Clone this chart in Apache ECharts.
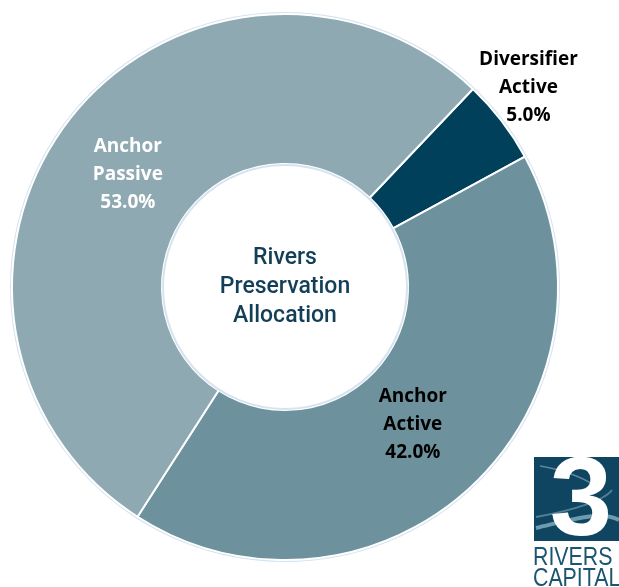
<!DOCTYPE html>
<html><head><meta charset="utf-8">
<script src="https://cdn.jsdelivr.net/npm/echarts@6/dist/echarts.min.js"></script>
<style>html,body{margin:0;padding:0;background:#fff}#c{width:619px;height:587px}</style>
</head><body><div id="c"></div>
<script>
const categories = ['Diversifier\nActive', 'Anchor\nActive', 'Anchor\nPassive'];
const values = [5.0, 42.0, 53.0];
const colors = ['#00405a', '#6e929d', '#8ea9b1'];
const labelColors = ['#000000', '#000000', '#ffffff'];
const labelOffsets = [[84, -77], [-9, -10], [1, 12]];

const chart = echarts.init(document.getElementById('c'), null, {renderer: 'canvas'});
const data = categories.map((n, i) => ({
  name: n, value: values[i],
  itemStyle: {color: colors[i]},
  label: {color: labelColors[i], offset: labelOffsets[i]}
}));
chart.setOption({
  animation: false,
  graphic: [
    {type: 'circle', shape: {cx: 285, cy: 287, r: 274}, style: {fill: 'none', stroke: '#d6e4f0', lineWidth: 2}, z: -1},
    {type: 'circle', shape: {cx: 285, cy: 287, r: 122}, style: {fill: 'none', stroke: '#d6e4f0', lineWidth: 2}, z: 10},
    {type: 'text', z: 10, silent: true,
     style: {text: 'Rivers\nPreservation\nAllocation', x: 285, y: 287, align: 'center', verticalAlign: 'middle',
       font: '500 23px Roboto', fill: '#123f57', lineHeight: 29}},
    {type: 'rect', shape: {x: 534, y: 457, width: 90, height: 84}, style: {fill: '#0f4560'}},
    {type: 'bezierCurve', shape: {x1: 536, y1: 528, x2: 619, y2: 520, cpx1: 570, cpy1: 520, cpx2: 600, cpy2: 510}, style: {stroke: '#6f9bb0', lineWidth: 4, fill: 'none'}},
    {type: 'bezierCurve', shape: {x1: 536, y1: 517, x2: 612, y2: 490, cpx1: 575, cpy1: 510, cpx2: 605, cpy2: 500}, style: {stroke: '#4f7f96', lineWidth: 2, fill: 'none'}},
    {type: 'bezierCurve', shape: {x1: 540, y1: 466, x2: 600, y2: 490, cpx1: 565, cpy1: 470, cpx2: 590, cpy2: 480}, style: {stroke: '#5b899f', lineWidth: 1.5, fill: 'none'}},
    {type: 'text', style: {text: '3', x: 581, y: 504, align: 'center', verticalAlign: 'middle', font: 'bold 112px "Liberation Sans"', fill: '#ffffff'}},
    {type: 'text', x: 533, y: 558, scaleX: 0.82, style: {text: 'RIVERS', x: 0, y: 0, align: 'left', verticalAlign: 'middle', font: '26px "Liberation Sans"', fill: '#1b5572'}},
    {type: 'text', x: 533, y: 579, scaleX: 0.82, style: {text: 'CAPITAL', x: 0, y: 0, align: 'left', verticalAlign: 'middle', font: '26px "Liberation Sans"', fill: '#1b5572'}}
  ],
  series: [{
    type: 'pie',
    center: [285, 287],
    radius: [123, 273],
    startAngle: 46.5,
    clockwise: true,
    avoidLabelOverlap: false,
    itemStyle: {borderColor: '#ffffff', borderWidth: 2},
    label: {show: true, position: 'inside', formatter: p => p.name + '\n' + p.value.toFixed(1) + '%',
      fontWeight: 'bold', fontSize: 19, fontFamily: 'Open Sans', lineHeight: 28, align: 'center'},
    labelLine: {show: false},
    emphasis: {disabled: true},
    data: data
  }]
});
</script></body></html>
